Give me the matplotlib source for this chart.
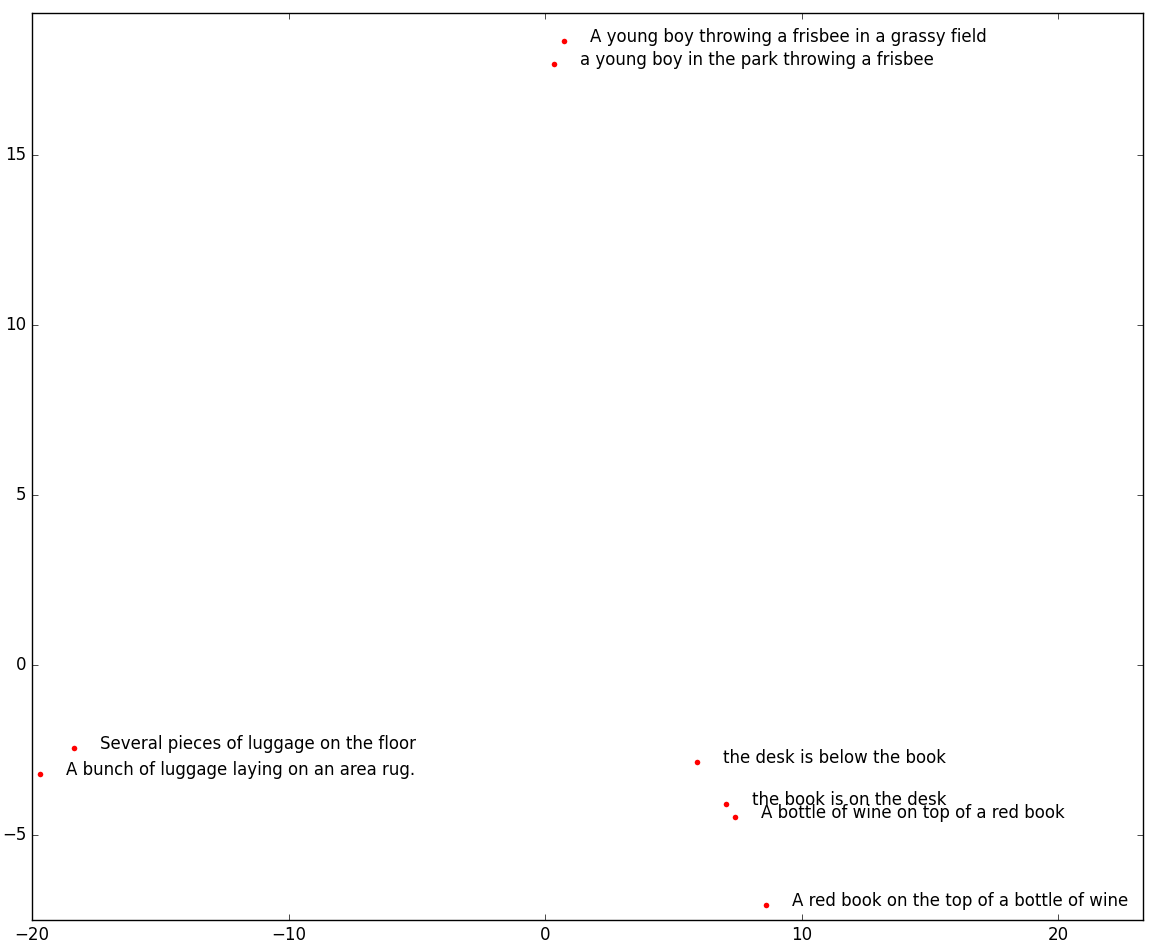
import matplotlib
matplotlib.use("Agg")
import matplotlib.pyplot as plt

# 2-d embedding of the captions
xs = [0.74, 0.35, -18.36, -19.69, 5.93, 7.06, 7.41, 8.62]
ys = [18.35, 17.68, -2.44, -3.21, -2.85, -4.09, -4.47, -7.06]
labels = ["A young boy throwing a frisbee in a grassy field",
          "a young boy in the park throwing a frisbee",
          "Several pieces of luggage on the floor",
          "A bunch of luggage laying on an area rug.",
          "the desk is below the book",
          "the book is on the desk",
          "A bottle of wine on top of a red book",
          "A red book on the top of a bottle of wine"]

plt.style.use("classic")
plt.rcParams['font.family'] = ['DejaVu Sans']
fig = plt.figure(figsize=(11.56, 9.44), dpi=100, facecolor="white")
ax = fig.add_axes([0.0277, 0.0254, 0.961, 0.9608])

ax.plot(xs, ys, "r.", markersize=8, markeredgewidth=0)
for x, y, lab in zip(xs, ys, labels):
    ax.text(x + 1, y - 0.03, lab, fontsize=12)

ax.set_xlim(-20, 23.3)
ax.set_ylim(-7.5, 19.18)
ax.set_xticks([-20, -10, 0, 10, 20])
ax.set_yticks([-5, 0, 5, 10, 15])

fig.savefig("out.png", dpi=100, facecolor="white")
